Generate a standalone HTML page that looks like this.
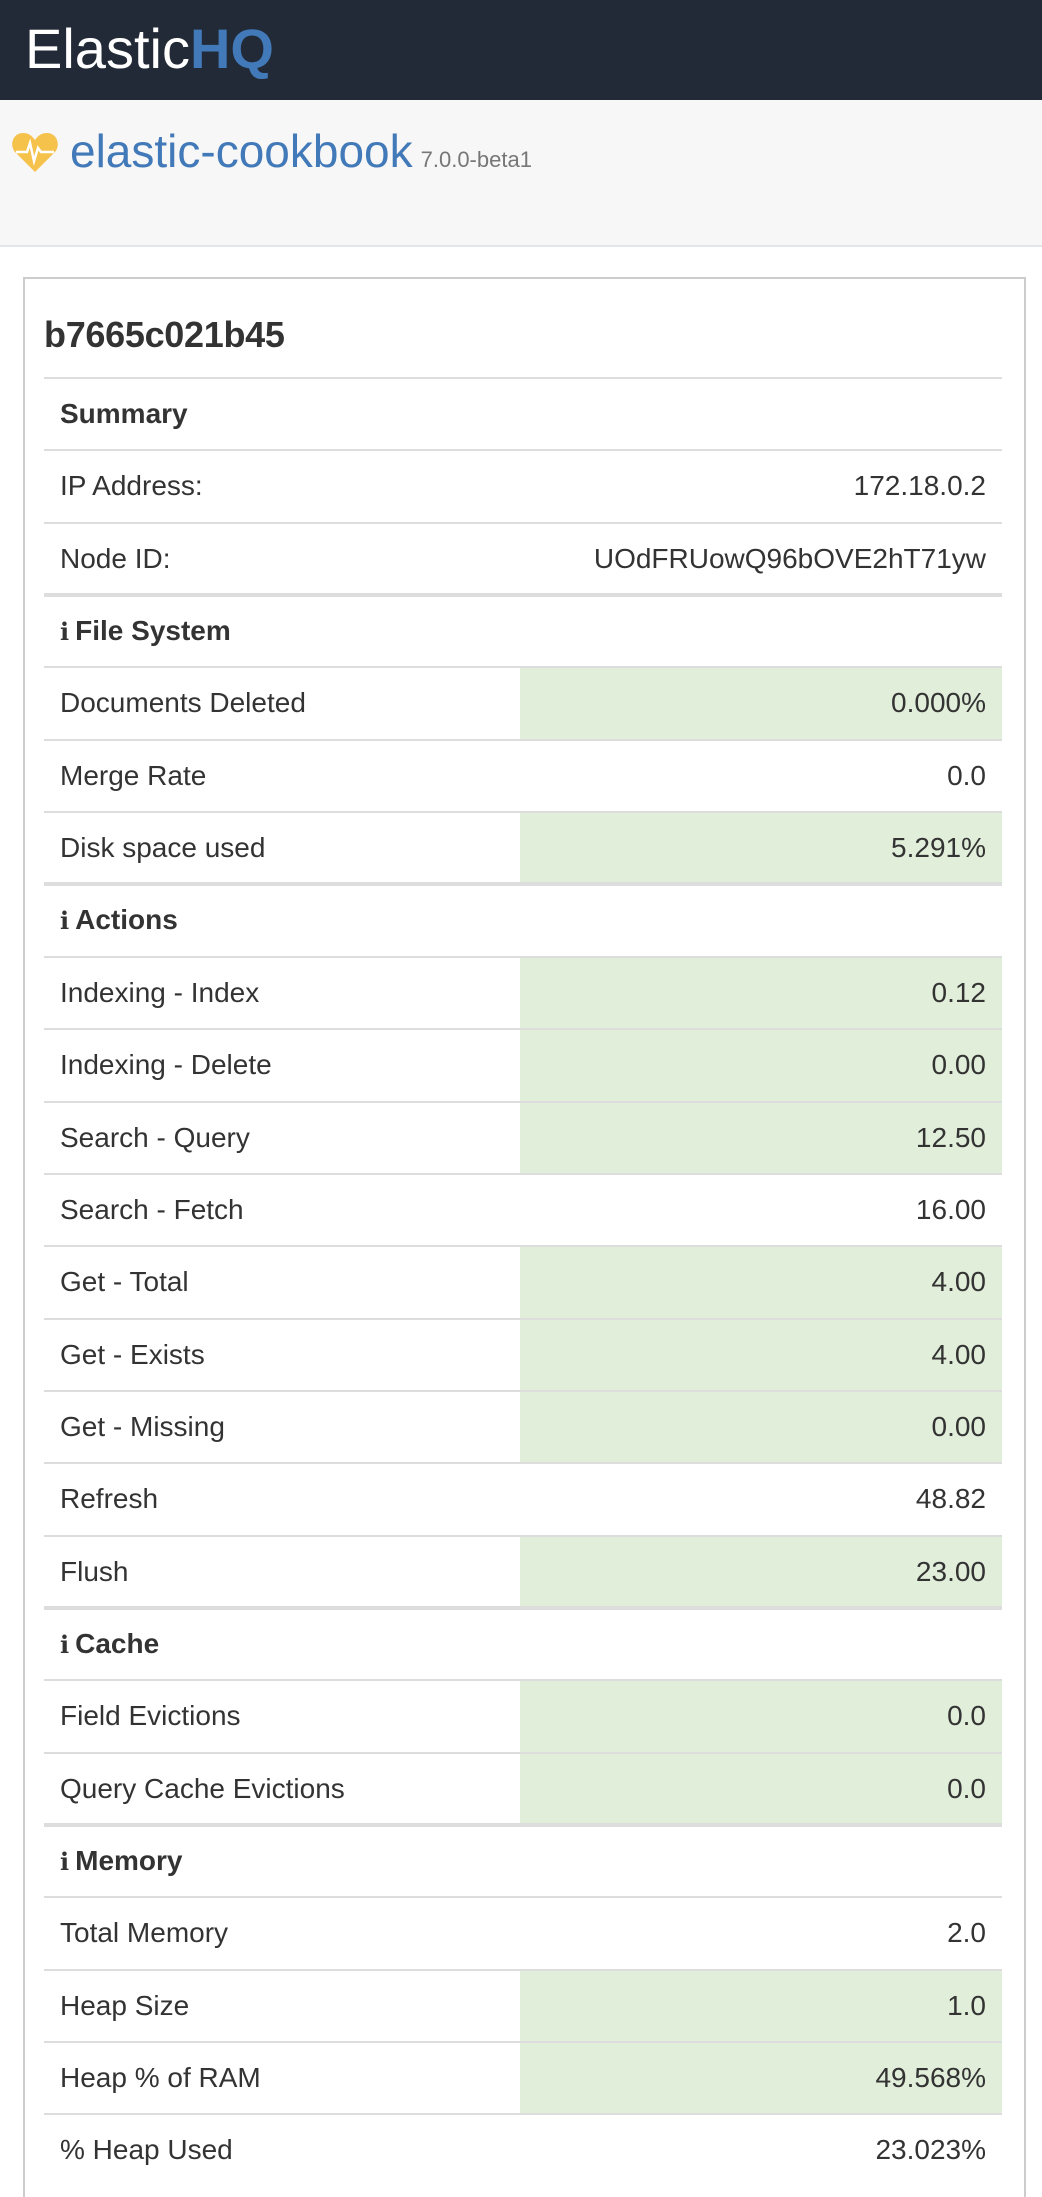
<!DOCTYPE html>
<html><head><meta charset="utf-8"><style>
*{margin:0;padding:0;box-sizing:border-box}
body{width:1042px;height:2180px;overflow:hidden;background:#fff;font-family:"Liberation Sans",Helvetica,Arial,sans-serif;color:#333;position:relative}
#hdr{position:absolute;left:0;top:0;width:1042px;height:100px;background:#212a36}
#brand{position:absolute;left:25px;top:14px;font-size:56px;color:#fff;line-height:70px;white-space:nowrap}
#brand b{color:#4279b8}
#band{position:absolute;left:0;top:100px;width:1042px;height:147px;background:#f7f7f7;border-bottom:2px solid #e3e6e9}
#heart{position:absolute;left:12px;top:131px}
#cname{position:absolute;left:70px;top:122px;font-size:46px;color:#4279b8;line-height:58px;white-space:nowrap}
#cname span{font-size:22px;color:#777;margin-left:8px}
#card{position:absolute;left:23px;top:277px;width:1003px;height:1920px;border:2px solid #ccc;border-bottom:none}
#title{position:absolute;left:44px;top:313px;font-size:36px;line-height:44px;color:#333;font-weight:bold;letter-spacing:-0.3px}
.row{position:absolute;left:44px;width:958px;height:73px;border-top:2px solid #ddd;font-size:28px;line-height:70px}
.row.sec{border-top:4px solid #ddd;font-weight:bold;line-height:68px}
.row .g{position:absolute;left:476px;top:0;right:0;bottom:0;background:#e1eeda}
.row .l{position:absolute;left:16px;top:0}
.row .v{position:absolute;right:16px;top:0}
.ic{font-family:"DejaVu Serif",serif;font-weight:bold;font-size:24px;margin-right:6px}
</style></head><body>
<div id="hdr"><div id="brand">Elastic<b>HQ</b></div></div>
<div id="band"></div>
<svg id="heart" width="46" height="42" viewBox="0 0 46 42"><path d="M23 41 L3 21 C-3 14 1 2 11 2 C17 2 20 5 23 9 C26 5 29 2 35 2 C45 2 49 14 43 21 Z" fill="#f5c24c"/><polyline points="4,21 15,21 18,12 22,30 26,17 29,21 42,21" fill="none" stroke="#fff" stroke-width="2.5"/></svg>
<div id="cname">elastic-cookbook<span>7.0.0-beta1</span></div>
<div id="card"></div>
<div id="title">b7665c021b45</div>
<div id="rows"></div>
<script>
const labels=["Summary","IP Address:","Node ID:","File System","Documents Deleted","Merge Rate","Disk space used","Actions","Indexing - Index","Indexing - Delete","Search - Query","Search - Fetch","Get - Total","Get - Exists","Get - Missing","Refresh","Flush","Cache","Field Evictions","Query Cache Evictions","Memory","Total Memory","Heap Size","Heap % of RAM","% Heap Used"];
const values=["","172.18.0.2","UOdFRUowQ96bOVE2hT71yw","","0.000%","0.0","5.291%","","0.12","0.00","12.50","16.00","4.00","4.00","0.00","48.82","23.00","","0.0","0.0","","2.0","1.0","49.568%","23.023%"];
const kinds=["h","n","n","s","g","n","g","s","g","g","g","n","g","g","g","n","g","s","g","g","s","n","g","g","n"];
const c=document.getElementById('rows');
labels.forEach((lab,i)=>{
  const r=document.createElement('div');
  
  
  const k=kinds[i];
  r.className='row'+(k==='s'?' sec':'');
  r.style.top=Math.round(377+i*72.35-(k==='s'?1:0))+'px';
  if(k==='h'){r.style.fontWeight='bold';}
  let html='';
  if(k==='g')html+='<div class="g"></div>';
  html+='<div class="l">'+(k==='s'?'<span class="ic">i</span>':'')+lab+'</div>';
  if(values[i])html+='<div class="v">'+values[i]+'</div>';
  r.innerHTML=html;
  c.appendChild(r);
});
</script>
</body></html>
